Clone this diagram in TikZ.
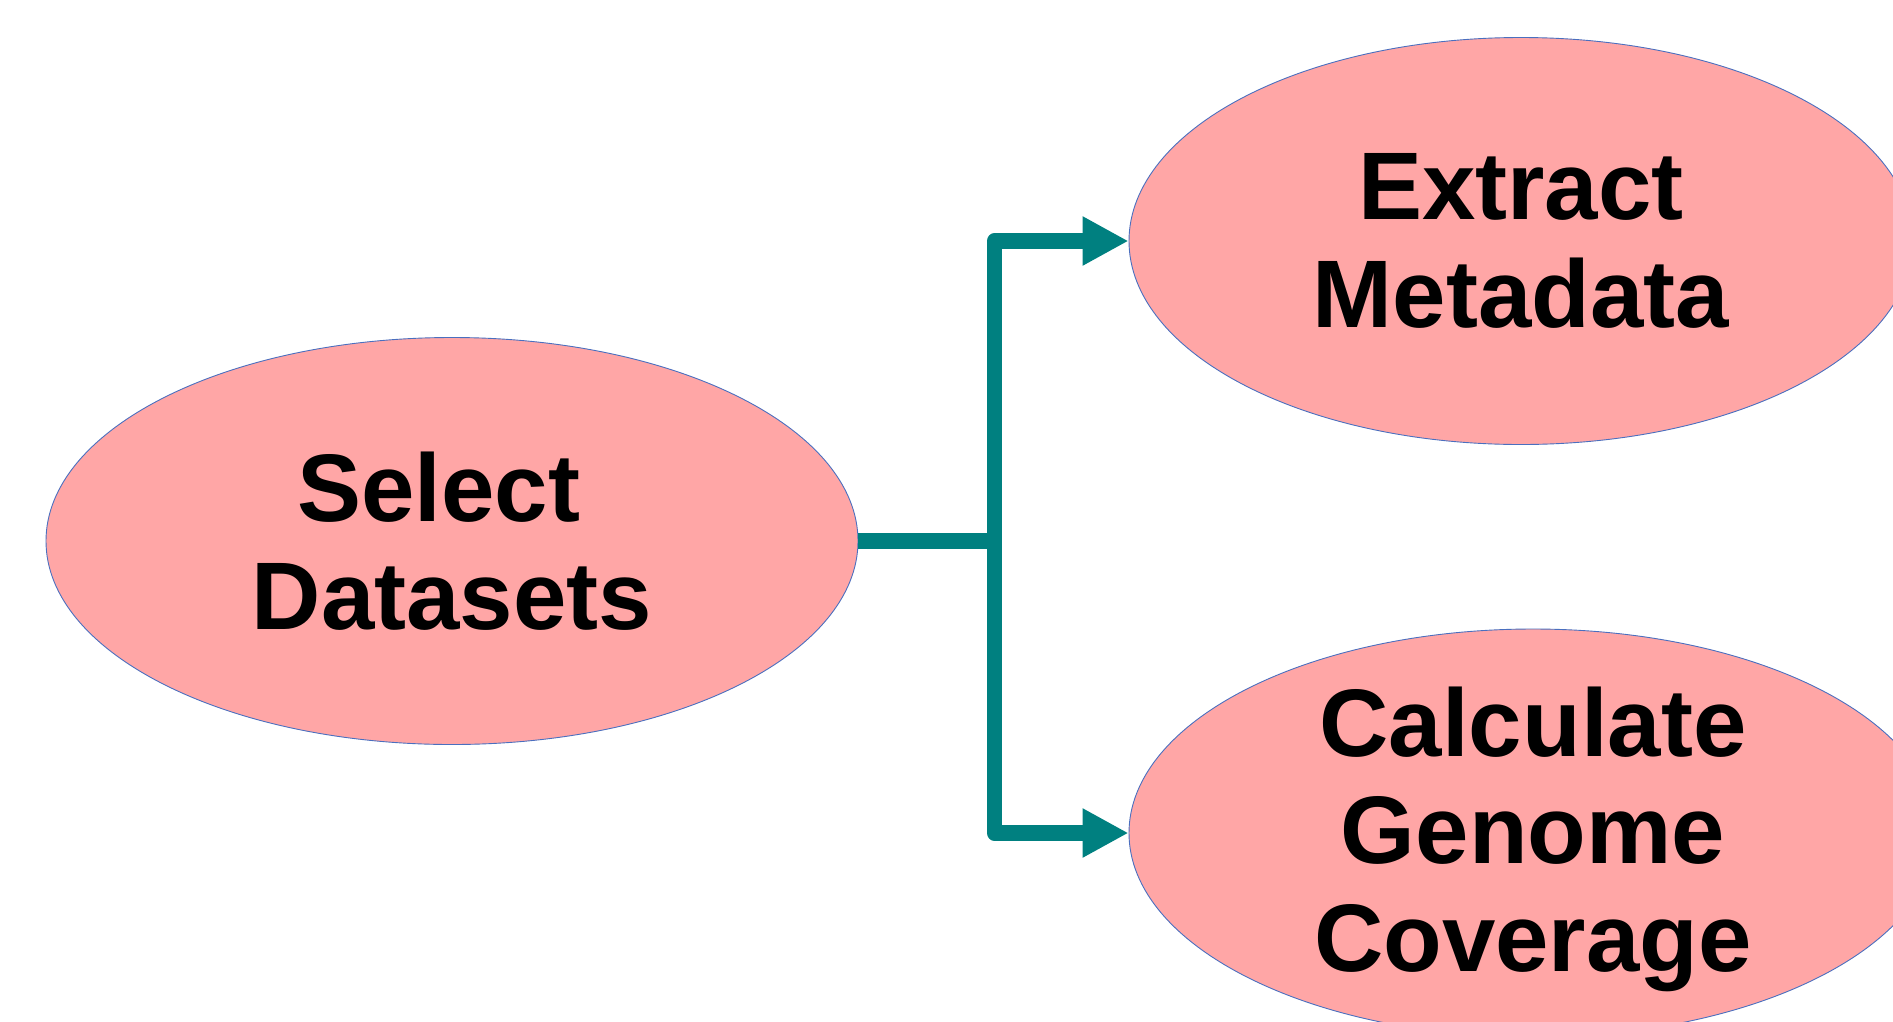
\documentclass[tikz,border=0pt]{standalone}
\usepackage{fontspec}
\setmainfont{Liberation Sans}
\usetikzlibrary{shapes.geometric,arrows.meta}
\definecolor{pinkfill}{HTML}{FFA6A6}
\definecolor{edgeblue}{HTML}{4A6FBF}
\definecolor{teal}{HTML}{008080}
\tikzset{
  proc/.style={ellipse, fill=pinkfill, draw=edgeblue, line width=0.9pt, inner sep=0pt},
  proctext/.style={inner sep=0pt, align=center, font=\fontsize{96}{107.5}\selectfont\bfseries},
  conn/.style={draw=teal, line width=15.5pt, line join=round},
  arr/.style={conn, -{Triangle[length=46pt,width=46pt]}}
}
\begin{document}
\begin{tikzpicture}[x=1pt,y=-1pt]
\useasboundingbox (0,0) rectangle (1893,1021);
\clip (0,0) rectangle (1893,1021);
\node[proc, minimum width=812pt, minimum height=407pt] (sel) at (452,541) {};
\node[proc, minimum width=784pt, minimum height=407pt] (ext) at (1521,241) {};
\node[proc, minimum width=808pt, minimum height=408pt] (cal) at (1533,833) {};
\node[proctext] (selt) at (sel.center) {Select\hspace*{0.278em}\\Datasets};
\node[proctext] (extt) at (ext.center) {Extract\\Metadata};
\node[proctext, yshift=-6pt] (calt) at (cal.center) {Calculate\\Genome\\Coverage};
\coordinate (j) at (994.5,541);
\draw[conn] (sel.east) -- (j);
\draw[arr] (j) |- (ext.west);
\draw[arr] (j) |- (cal.west);
\end{tikzpicture}
\end{document}
